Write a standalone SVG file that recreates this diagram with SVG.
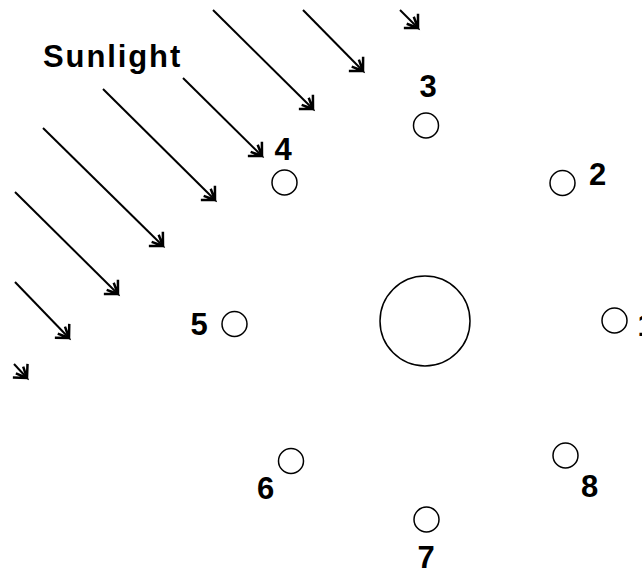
<svg xmlns="http://www.w3.org/2000/svg" width="642" height="574" viewBox="0 0 642 574">
<style>
.ray{stroke:#000;stroke-width:2;fill:none;marker-end:url(#ah)}
.body{fill:#fff;stroke:#000;stroke-width:1.5}
.lbl{font-family:"Liberation Sans",Arial,sans-serif;font-weight:bold;font-size:31px;fill:#000}
</style>
<defs>
<marker id="ah" markerUnits="userSpaceOnUse" markerWidth="30" markerHeight="30" viewBox="-15 -15 30 30" refX="0" refY="0" orient="auto">
<path d="M-10,-10 L0,0 L-10,10 M-11,-5 L0,0 L-11,5" fill="none" stroke="#000" stroke-width="2.5"/>
</marker>
</defs>
<rect width="642" height="574" fill="#fff"/>
<g id="connectors">
<line class="ray" x1="400" y1="10" x2="418" y2="28"/>
<line class="ray" x1="303" y1="10" x2="363" y2="71"/>
<line class="ray" x1="213" y1="10" x2="313" y2="109"/>
<line class="ray" x1="183" y1="78" x2="262" y2="156"/>
<line class="ray" x1="103" y1="89" x2="215" y2="200"/>
<line class="ray" x1="43" y1="128" x2="163" y2="246"/>
<line class="ray" x1="15" y1="192" x2="118" y2="294"/>
<line class="ray" x1="15" y1="282" x2="69" y2="338"/>
<line class="ray" x1="14" y1="364" x2="27" y2="378"/>
</g>
<g id="sunlight"><text class="lbl" x="43" y="67" font-size="30" letter-spacing="1.9">Sunlight</text></g>
<g id="center"><circle class="body" cx="425" cy="321" r="45"/></g>
<g id="n1"><circle class="body" cx="614.5" cy="320.5" r="12.5"/><text class="lbl" x="637.5" y="336">1</text></g>
<g id="n2"><circle class="body" cx="562.5" cy="183" r="12.5"/><text class="lbl" x="597.5" y="185" text-anchor="middle">2</text></g>
<g id="n3"><circle class="body" cx="426" cy="125.5" r="12.5"/><text class="lbl" x="428" y="97" text-anchor="middle">3</text></g>
<g id="n4"><circle class="body" cx="284.5" cy="182.5" r="12.5"/><text class="lbl" x="283" y="160" text-anchor="middle">4</text></g>
<g id="n5"><circle class="body" cx="234.5" cy="324" r="12.5"/><text class="lbl" x="199" y="335" text-anchor="middle">5</text></g>
<g id="n6"><circle class="body" cx="291" cy="461" r="12.5"/><text class="lbl" x="265.5" y="499" text-anchor="middle">6</text></g>
<g id="n7"><circle class="body" cx="426.5" cy="519.5" r="12.5"/><text class="lbl" x="426" y="568" text-anchor="middle">7</text></g>
<g id="n8"><circle class="body" cx="565.5" cy="455.5" r="12.5"/><text class="lbl" x="589.5" y="497" text-anchor="middle">8</text></g>
</svg>
